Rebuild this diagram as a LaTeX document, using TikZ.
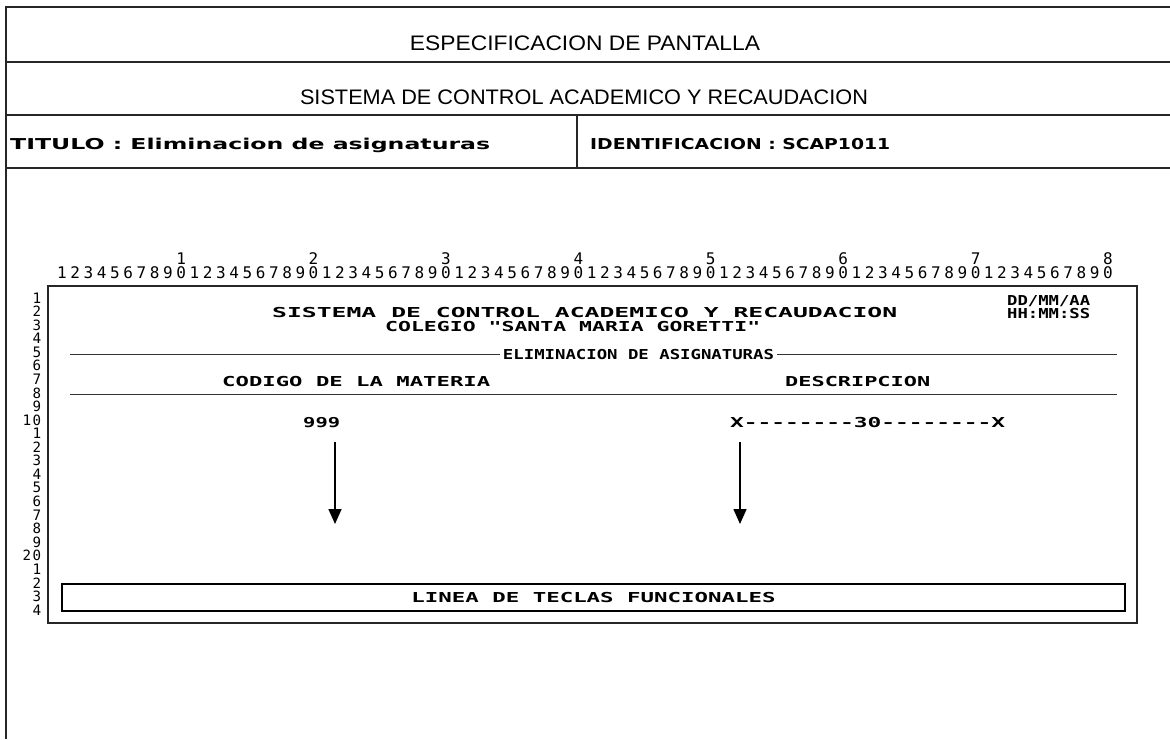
\documentclass[tikz,border=0pt]{standalone}
\usepackage{fontspec}
\usepackage{graphicx}
\usetikzlibrary{arrows.meta}
\setmainfont{Liberation Sans}
\newfontfamily\scrfont{DejaVu Sans Mono}
\newfontfamily\hdrfont{Liberation Sans}
\newfontfamily\titfont{DejaVu Sans}
\newcommand\fw[2]{\resizebox{#1pt}{\height}{#2}}
\tikzset{
  frameline/.style={line width=1.3pt, black!85},
  sepline/.style={line width=1pt, black!80},
  hdr/.style={font=\hdrfont\fontsize{21}{21}\selectfont, inner sep=0pt, anchor=base},
  tit/.style={font=\titfont\bfseries\fontsize{15}{15}\selectfont, inner sep=0pt, anchor=base west},
  scr/.style={font=\scrfont\bfseries\fontsize{13.7}{13.7}\selectfont, inner sep=0pt, anchor=base west},
  dig/.style={font=\scrfont\fontsize{16}{16}\selectfont, inner sep=0pt, anchor=center},
  rdig/.style={font=\scrfont\fontsize{15}{15}\selectfont, inner sep=0pt, anchor=center},
  arr/.style={line width=1.6pt, -{Triangle[length=15pt,width=13pt]}},
  fkbox/.style={draw, line width=1.2pt, minimum width=1063pt, minimum height=27pt, inner sep=0pt}
}
\begin{document}
\begin{tikzpicture}[x=1pt,y=-1pt]
\useasboundingbox (0,0) rectangle (1170,739);
% outer specification frame
\draw[frameline] (6,739) -- (6,7) -- (1170,7);
\draw[frameline] (6,62) -- (1170,62);
\draw[frameline] (6,115) -- (1170,115);
\draw[frameline] (6,168) -- (1170,168);
\draw[frameline] (577,115) -- (577,168);
\node[hdr] (esp) at (585,50) {\fw{350}{ESPECIFICACION DE PANTALLA}};
\node[hdr] (sis) at (584,104) {\fw{568}{SISTEMA DE CONTROL ACADEMICO Y RECAUDACION}};
\node[tit] (titulo) at (10,149) {\fw{480}{TITULO : Eliminacion de asignaturas}};
\node[tit] (ident) at (590,149) {\fw{300}{IDENTIFICACION : SCAP1011}};
% column ruler
\foreach \c in {1,...,80}{
  \pgfmathtruncatemacro\u{mod(\c,10)}
  \node[dig] (col\c) at ({62+(\c-1)*13.24},273) {\u};
}
\foreach \t in {1,...,8}{
  \node[dig] (ten\t) at ({62+(10*\t-1)*13.24},259) {\t};
}
% row ruler
\foreach \r in {1,...,24}{
  \pgfmathtruncatemacro\u{mod(\r,10)}
  \node[rdig] (row\r) at (37,{298+(\r-1)*13.56}) {\resizebox{!}{10.5pt}{\u}};
}
\node[rdig] (rowt1) at (27,{298+9*13.56}) {\resizebox{!}{10.5pt}{1}};
\node[rdig] (rowt2) at (27,{298+19*13.56}) {\resizebox{!}{10.5pt}{2}};
% screen frame
\draw[frameline] (48,286) rectangle (1137,623);
\node[scr] (stitle) at (272,317) {\fw{625}{SISTEMA DE CONTROL ACADEMICO Y RECAUDACION}};
\node[scr] (colegio) at (385,331) {\fw{375}{COLEGIO "SANTA MARIA GORETTI"}};
\node[scr] (fecha) at (1007,305) {\fw{83}{DD/MM/AA}};
\node[scr] (hora) at (1007,318) {\fw{83}{HH:MM:SS}};
\node[scr, anchor=base, inner xsep=3pt] (elim) at (638.5,359) {\fw{271}{ELIMINACION DE ASIGNATURAS}};
\coordinate (el1) at (70,354);
\coordinate (el2) at (1117,354);
\draw[sepline] (el1) -- (el1 -| elim.west);
\draw[sepline] (el2 -| elim.east) -- (el2);
\node[scr] (codigo) at (222,386) {\fw{268}{CODIGO DE LA MATERIA}};
\node[scr] (desc) at (785,386) {\fw{145}{DESCRIPCION}};
\coordinate (hl1) at (70,394);
\coordinate (hl2) at (1117,394);
\draw[sepline] (hl1) -- (hl2);
\node[scr] (nnn) at (303,427) {\fw{37}{999}};
\node[scr] (xfield) at (730,427) {\fw{275}{X--------30--------X}};
\coordinate (a1top) at (335,442);
\coordinate (a1bot) at (335,524);
\coordinate (a2top) at (740,442);
\coordinate (a2bot) at (740,524);
\draw[arr] (a1top) -- (a1bot);
\draw[arr] (a2top) -- (a2bot);
\node[fkbox, font=\scrfont\bfseries\fontsize{13.7}{13.7}\selectfont] (fk) at (593.5,597.5) {\fw{364}{LINEA DE TECLAS FUNCIONALES}};
\end{tikzpicture}
\end{document}
